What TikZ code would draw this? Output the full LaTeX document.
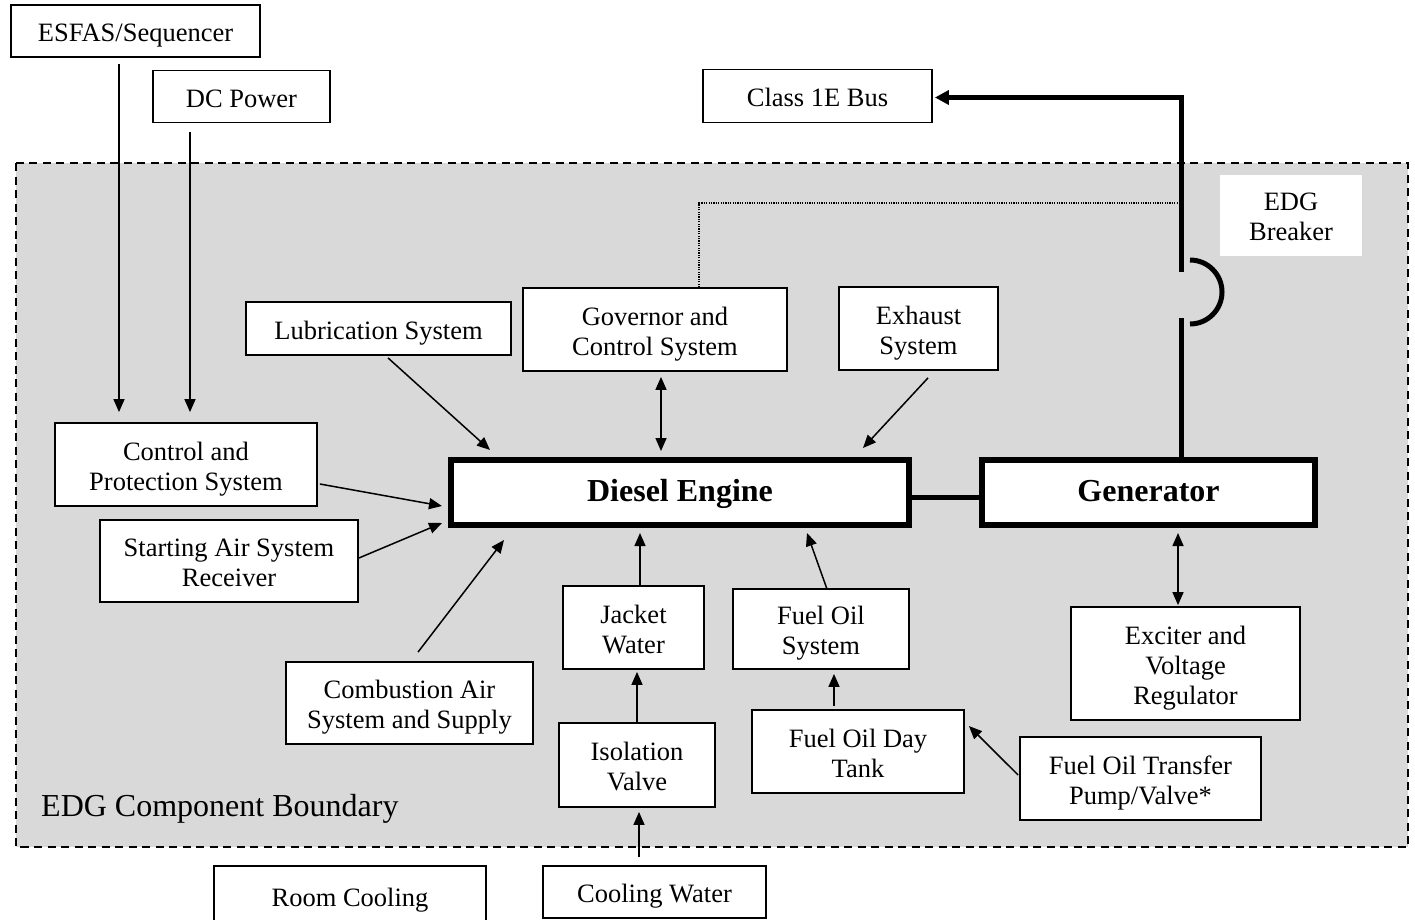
\documentclass[tikz,border=0pt]{standalone}
\usepackage{fontspec}
\setmainfont{Liberation Serif}
\usetikzlibrary{arrows.meta,calc}
\definecolor{zonegray}{RGB}{217,217,217}
% every text line gets the same height, so descenders do not move the text
\newcommand\txtline[1]{\smash{#1}\rule{0pt}{21pt}}
\newcommand\bfline[1]{\smash{#1}\rule{0pt}{18pt}}
\begin{document}
\begin{tikzpicture}[x=1pt,y=-1pt,
  box/.style={draw=black,line width=1.8pt,fill=white,inner sep=0pt,align=center,
    font=\fontsize{26.5pt}{30pt}\selectfont},
  mainbox/.style={draw=black,line width=6pt,fill=white,inner sep=0pt,align=center,
    font=\fontsize{32pt}{36pt}\selectfont\bfseries},
  arr/.style={line width=1.5pt,-{Triangle[length=13pt,width=11pt]}},
  dblarr/.style={line width=1.5pt,{Triangle[length=13pt,width=11pt]}-{Triangle[length=13pt,width=11pt]}},
  power/.style={line width=5pt},
  boundary/.style={draw=black,fill=zonegray,line width=2.2pt,dash pattern=on 8pt off 5.5pt},
]
\useasboundingbox (0,0) rectangle (1415,919);
\clip (0,0) rectangle (1415,919);
\fill[white] (0,0) rectangle (1415,919);

% EDG component boundary
\draw[boundary] (16,163) rectangle (1408,847);
\node[anchor=base west,inner sep=0pt,font=\fontsize{32pt}{36pt}\selectfont] (bndlabel) at (41,816) {EDG Component Boundary};

% breaker label
\node[fill=white,inner sep=0pt,minimum width=142pt,minimum height=81pt,align=center,
  font=\fontsize{26.5pt}{30pt}\selectfont] (brk) at (1291,215) {\txtline{EDG}\\\txtline{Breaker}};

% external supports
\node[box,minimum width=249pt,minimum height=52pt] (esfas) at (135.5,31) {\txtline{ESFAS/Sequencer}};
\node[box,minimum width=177pt,minimum height=52pt] (dcpow) at (241.5,96.5) {\txtline{DC Power}};
\node[box,minimum width=229pt,minimum height=53pt] (bus) at (817.5,96) {\txtline{Class 1E Bus}};
\node[box,minimum width=272pt,minimum height=60pt] (room) at (350,896) {\txtline{Room Cooling}};
\node[box,minimum width=223pt,minimum height=52pt] (cw) at (654.5,892) {\txtline{Cooling Water}};

% subsystems inside the boundary
\node[box,minimum width=265pt,minimum height=53pt] (lub) at (378.5,328.5) {\txtline{Lubrication System}};
\node[box,minimum width=264pt,minimum height=83pt] (gov) at (655,329.5) {\txtline{Governor and}\\\txtline{Control System}};
\node[box,minimum width=159pt,minimum height=83pt] (exh) at (918.5,328.5) {\txtline{Exhaust}\\\txtline{System}};
\node[box,minimum width=262pt,minimum height=83pt] (ctl) at (186,464.5) {\txtline{Control and}\\\txtline{Protection System}};
\node[box,minimum width=258pt,minimum height=82pt] (sta) at (229,561) {\txtline{Starting Air System}\\\txtline{Receiver}};
\node[box,minimum width=141pt,minimum height=83pt] (jw) at (633.5,627.5) {\txtline{Jacket}\\\txtline{Water}};
\node[box,minimum width=176pt,minimum height=80pt] (fos) at (821,629) {\txtline{Fuel Oil}\\\txtline{System}};
\node[box,minimum width=229pt,minimum height=113pt] (exc) at (1185.5,663.5) {\txtline{Exciter and}\\\txtline{Voltage}\\\txtline{Regulator}};
\node[box,minimum width=247pt,minimum height=82pt] (cmb) at (409.5,703) {\txtline{Combustion Air}\\\txtline{System and Supply}};
\node[box,minimum width=156pt,minimum height=84pt] (iso) at (637,765) {\txtline{Isolation}\\\txtline{Valve}};
\node[box,minimum width=212pt,minimum height=83pt] (dt) at (858,751.5) {\txtline{Fuel Oil Day}\\\txtline{Tank}};
\node[box,minimum width=241pt,minimum height=83pt] (fot) at (1140.5,778.5) {\txtline{Fuel Oil Transfer}\\\txtline{Pump/Valve*}};

% engine and generator
\node[mainbox,minimum width=458pt,minimum height=65pt] (die) at (680,492.5) {\bfline{Diesel Engine}};
\node[mainbox,minimum width=333pt,minimum height=65pt] (gen) at (1148.5,492.5) {\bfline{Generator}};

% signal and support connections
\draw[arr] ($(esfas.south)+(-16.5,6)$) -- ($(ctl.north)+(-67,-10)$);
\draw[arr] ($(dcpow.south)+(-51.5,9)$) -- ($(ctl.north)+(4,-10)$);
\draw[arr] ($(lub.south)+(9.5,2)$) -- ($(die.north)+(-190,-7)$);
\draw[dblarr] ($(gov.south)+(6,5)$) -- ($(die.north)+(-19,-6)$);
\draw[arr] ($(exh.south)+(9.5,7)$) -- ($(die.north)+(183,-9)$);
\draw[arr] ($(ctl.east)+(2,19.5)$) -- ($(die.west)+(-6,13.5)$);
\draw[arr] ($(sta.east)+(0,-3)$) -- ($(die.west)+(-6,30.5)$);
\draw[arr] ($(cmb.north)+(8.5,-9)$) -- ($(die.south)+(-176,12)$);
\draw[arr] ($(jw.north)+(6.5,0)$) -- ($(die.south)+(-40,5)$);
\draw[arr] ($(fos.north)+(6,1)$) -- ($(die.south)+(127,5)$);
\draw[arr] (iso.north) -- ($(jw.south)+(3.5,2)$);
\draw[arr] ($(cw.north)+(-15.5,-8)$) -- ($(iso.south)+(2,4)$);
\draw[arr] ($(dt.north)+(-24,-3)$) -- ($(fos.south)+(13,4)$);
\draw[arr] ($(fot.west)+(-1,-3.5)$) -- ($(dt.east)+(4,-25.5)$);
\draw[dblarr] ($(gen.south)+(29.5,5)$) -- ($(exc.north)+(-7.5,-1)$);

% governor control link to the breaker
\coordinate (dotend) at (1178,203);
\draw[line width=1.2pt,dash pattern=on 1.2pt off 1.2pt] ($(gov.north)+(44,0)$) |- (dotend);

% shaft between engine and generator
\draw[power] ($(die.east)+(0,4.5)$) -- ($(gen.west)+(0,4.5)$);

% generator output through the EDG breaker to the bus
\coordinate (bklow) at (1181,318);
\coordinate (bkhigh) at (1181,272);
\draw[power] ($(gen.north)+(32.5,0)$) -- (bklow);
\draw[power] (1190,260) arc[start angle=-90,end angle=90,radius=32];
\draw[power,-{Triangle[length=14pt,width=14pt]}] (bkhigh) |- ($(bus.east)+(2,1.5)$);
\end{tikzpicture}
\end{document}
